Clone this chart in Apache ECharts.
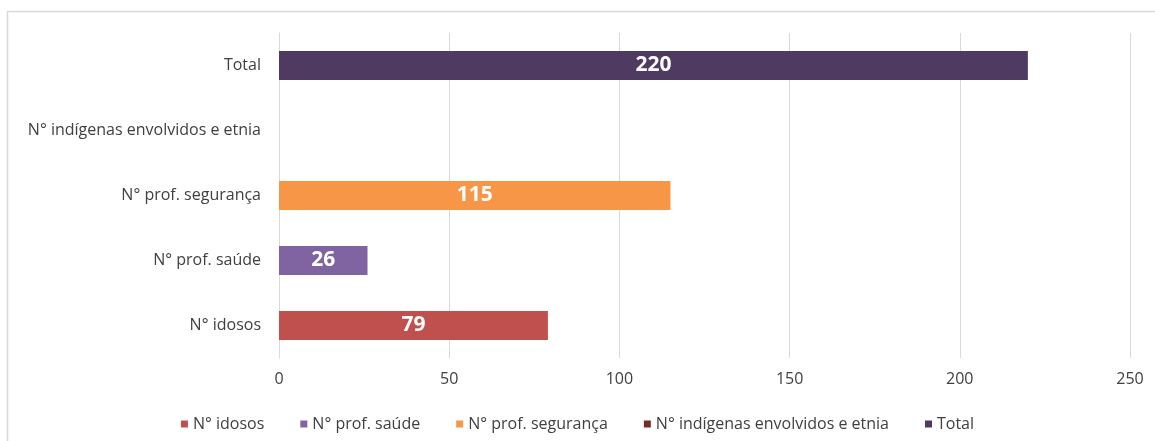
<!DOCTYPE html>
<html>
<head>
<meta charset="utf-8">
<script src="https://cdn.jsdelivr.net/npm/echarts@6/dist/echarts.min.js"></script>
<style>
  html, body { margin: 0; padding: 0; background: #fff; }
  #chart { width: 1155px; height: 441px; }
</style>
</head>
<body>
<div id="chart"></div>
<script>
// categories bottom -> top, as the category axis draws them
const categories = ['N° idosos', 'N° prof. saúde', 'N° prof. segurança', 'N° indígenas envolvidos e etnia', 'Total']
const values = [79, 26, 115, null, 220]
const colors = ['#C0504D', '#8064A2', '#F79646', '#772C2A', '#4F3A62']
const xTicks = [0, 50, 100, 150, 200, 250]

const chart = echarts.init(document.getElementById('chart'))

// one series per category so each gets its own legend entry
const series = categories.map((name, i) => {
  return {
    name: name,
    type: 'bar',
    stack: 'all',
    barWidth: 29,
    itemStyle: { color: colors[i] },
    label: {
      show: true,
      position: 'inside',
      color: '#fff',
      fontWeight: 'bold',
      fontSize: 21,
      fontFamily: 'Open Sans',
    },
    data: categories.map((c, j) => (j === i && values[i] != null ? values[i] : '-')),
  }
})

chart.setOption({
  animation: false,
  graphic: [
    {
      type: 'rect',
      shape: { x: 7.5, y: 11.5, width: 1160, height: 440 },
      style: { fill: 'none', stroke: '#D9D9D9', lineWidth: 1.5 },
    },
  ],
  legend: {
    bottom: 4,
    left: 'center',
    itemWidth: 7,
    itemHeight: 7,
    itemGap: 36,
    icon: 'rect',
    textStyle: { color: '#404040', fontSize: 16, fontFamily: 'Open Sans' },
    data: categories,
  },
  grid: { left: 279, right: 25, top: 33, bottom: 83 },
  xAxis: {
    type: 'value',
    min: 0,
    max: 250,
    interval: 50,
    axisLine: { show: false },
    axisTick: { show: false },
    splitLine: { lineStyle: { color: '#D9D9D9' } },
    axisLabel: {
      color: '#404040',
      fontSize: 16,
      fontFamily: 'Open Sans',
      margin: 13,
      formatter: (v) => (xTicks.includes(v) ? String(v) : ''),
    },
  },
  yAxis: {
    type: 'category',
    data: categories,
    axisLine: { lineStyle: { color: '#D9D9D9' } },
    axisTick: { length: 7, lineStyle: { color: '#D9D9D9' } },
    axisLabel: { color: '#404040', fontSize: 16, fontFamily: 'Open Sans', margin: 18 },
  },
  series: series,
})
</script>
</body>
</html>
